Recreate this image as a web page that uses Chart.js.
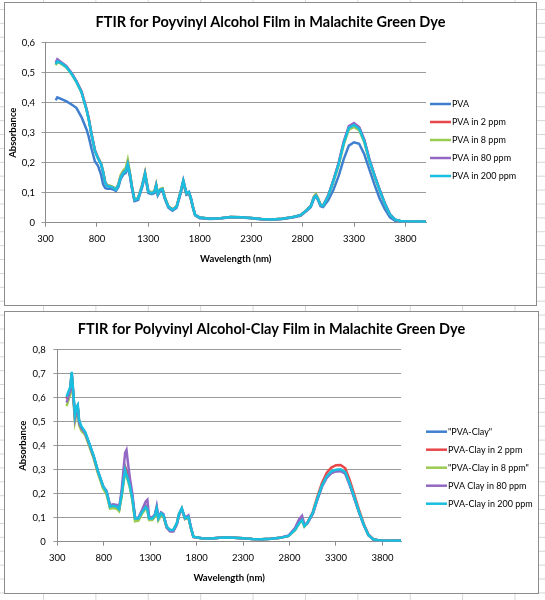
<!DOCTYPE html>
<html>
<head>
<meta charset="utf-8">
<script src="https://cdn.jsdelivr.net/npm/chart.js@4"></script>
<style>
  html, body { margin: 0; padding: 0; }
  body {
    width: 545px; height: 600px; position: relative; overflow: hidden;
    background-color: #fff;
    background-image:
      linear-gradient(to right, #d6d6d6 1px, transparent 1px),
      linear-gradient(to bottom, #d6d6d6 1px, transparent 1px);
    background-size: 52.4px 100%, 100% 13.9px;
    background-position: 43px 0, 0 9px;
  }
  .frame { position: absolute; box-sizing: border-box; border: 1px solid #8c8c8c; background: #fff; }
  .frame .box { position: absolute; left: -1px; top: -1px; }
  #topFrame { left: 4px; top: 2px; width: 533px; height: 304px; }
  #topFrame .box { width: 533px; height: 304px; }
  #bottomFrame { left: 4px; top: 311px; width: 535px; height: 283px; }
  #bottomFrame .box { width: 535px; height: 283px; }
</style>
</head>
<body>
<div class="frame" id="topFrame"><div class="box"><canvas id="pvaChart"></canvas></div></div>
<div class="frame" id="bottomFrame"><div class="box"><canvas id="clayChart"></canvas></div></div>
<script>
// Series colours (Excel palette)
const seriesColors = ['#3f7fcf', '#e8474a', '#9bcb52', '#9368c4', '#19bfde'];

// Axis ticks
const xTicks = [300, 800, 1300, 1800, 2300, 2800, 3300, 3800];
const topYTicks = [0, 0.1, 0.2, 0.3, 0.4, 0.5, 0.6];
const bottomYTicks = [0, 0.1, 0.2, 0.3, 0.4, 0.5, 0.6, 0.7, 0.8];

// FTIR for Poyvinyl Alcohol Film in Malachite Green Dye
const topLabels = ['PVA', 'PVA in 2 ppm', 'PVA in 8 ppm', 'PVA in 80 ppm', 'PVA in 200 ppm'];
const topWavelength = [
    400, 415, 450, 500, 550, 600, 650, 700, 720, 750,
    780, 810, 840, 860, 880, 900, 930, 960, 985, 1010,
    1030, 1060, 1080, 1100, 1120, 1140, 1165, 1200, 1240, 1268,
    1300, 1335, 1360, 1376, 1392, 1415, 1437, 1463, 1495, 1535,
    1575, 1615, 1640, 1670, 1695, 1715, 1735, 1755, 1800, 1900,
    2000, 2100, 2200, 2300, 2400, 2500, 2600, 2700, 2780, 2840,
    2880, 2910, 2930, 2950, 2975, 3000, 3050, 3100, 3150, 3200,
    3250, 3300, 3350, 3400, 3450, 3500, 3550, 3600, 3650, 3700,
    3750, 3800, 3900, 4000
];
const topPva = [
    0.408, 0.418, 0.413, 0.405, 0.395, 0.383, 0.352, 0.310, 0.287, 0.243,
    0.205, 0.190, 0.160, 0.128, 0.116, 0.113, 0.114, 0.110, 0.106, 0.120,
    0.145, 0.162, 0.166, 0.188, 0.156, 0.115, 0.072, 0.076, 0.118, 0.158,
    0.099, 0.095, 0.099, 0.120, 0.091, 0.105, 0.108, 0.077, 0.050, 0.040,
    0.050, 0.098, 0.133, 0.093, 0.097, 0.076, 0.047, 0.024, 0.015, 0.012,
    0.014, 0.018, 0.017, 0.015, 0.011, 0.010, 0.012, 0.017, 0.023, 0.040,
    0.052, 0.080, 0.088, 0.075, 0.055, 0.052, 0.075, 0.110, 0.155, 0.212,
    0.257, 0.268, 0.263, 0.228, 0.177, 0.126, 0.080, 0.045, 0.018, 0.006,
    0.004, 0.004, 0.003, 0.003
];
const topPva2 = [
    0.532, 0.540, 0.534, 0.522, 0.500, 0.472, 0.438, 0.378, 0.348, 0.292,
    0.242, 0.217, 0.197, 0.170, 0.135, 0.124, 0.121, 0.117, 0.111, 0.127,
    0.153, 0.170, 0.176, 0.198, 0.164, 0.121, 0.077, 0.081, 0.124, 0.165,
    0.104, 0.099, 0.104, 0.126, 0.096, 0.110, 0.113, 0.081, 0.054, 0.044,
    0.054, 0.104, 0.139, 0.097, 0.101, 0.079, 0.050, 0.026, 0.017, 0.013,
    0.015, 0.019, 0.018, 0.016, 0.012, 0.011, 0.013, 0.018, 0.025, 0.042,
    0.056, 0.085, 0.092, 0.079, 0.059, 0.057, 0.091, 0.142, 0.198, 0.268,
    0.319, 0.328, 0.316, 0.275, 0.210, 0.158, 0.109, 0.064, 0.028, 0.010,
    0.006, 0.005, 0.004, 0.003
];
const topPva8 = [
    0.525, 0.535, 0.530, 0.518, 0.497, 0.469, 0.434, 0.374, 0.344, 0.290,
    0.240, 0.216, 0.198, 0.172, 0.136, 0.125, 0.123, 0.119, 0.113, 0.130,
    0.158, 0.176, 0.182, 0.210, 0.170, 0.124, 0.078, 0.083, 0.126, 0.168,
    0.106, 0.101, 0.106, 0.128, 0.098, 0.112, 0.115, 0.083, 0.055, 0.045,
    0.055, 0.104, 0.138, 0.097, 0.101, 0.079, 0.050, 0.026, 0.017, 0.013,
    0.015, 0.019, 0.018, 0.016, 0.012, 0.011, 0.013, 0.018, 0.025, 0.043,
    0.057, 0.088, 0.096, 0.082, 0.060, 0.057, 0.089, 0.137, 0.190, 0.260,
    0.310, 0.319, 0.308, 0.268, 0.206, 0.154, 0.107, 0.062, 0.027, 0.010,
    0.006, 0.005, 0.004, 0.003
];
const topPva80 = [
    0.535, 0.545, 0.536, 0.523, 0.501, 0.472, 0.437, 0.377, 0.347, 0.291,
    0.241, 0.216, 0.196, 0.169, 0.134, 0.123, 0.120, 0.116, 0.110, 0.126,
    0.151, 0.169, 0.173, 0.196, 0.163, 0.120, 0.076, 0.080, 0.123, 0.164,
    0.103, 0.098, 0.103, 0.125, 0.095, 0.109, 0.112, 0.080, 0.053, 0.043,
    0.053, 0.103, 0.141, 0.099, 0.103, 0.081, 0.051, 0.026, 0.017, 0.013,
    0.015, 0.019, 0.018, 0.016, 0.012, 0.011, 0.013, 0.018, 0.025, 0.042,
    0.056, 0.084, 0.091, 0.079, 0.058, 0.056, 0.091, 0.142, 0.198, 0.270,
    0.322, 0.332, 0.319, 0.277, 0.211, 0.158, 0.109, 0.064, 0.028, 0.010,
    0.006, 0.005, 0.004, 0.003
];
const topPva200 = [
    0.528, 0.538, 0.532, 0.520, 0.498, 0.470, 0.435, 0.375, 0.345, 0.290,
    0.240, 0.215, 0.195, 0.168, 0.133, 0.122, 0.120, 0.116, 0.110, 0.125,
    0.150, 0.168, 0.172, 0.195, 0.162, 0.120, 0.076, 0.080, 0.122, 0.163,
    0.103, 0.098, 0.103, 0.124, 0.095, 0.109, 0.112, 0.080, 0.053, 0.043,
    0.053, 0.103, 0.140, 0.098, 0.102, 0.080, 0.050, 0.026, 0.017, 0.013,
    0.015, 0.019, 0.018, 0.016, 0.012, 0.011, 0.013, 0.018, 0.025, 0.042,
    0.055, 0.083, 0.090, 0.078, 0.058, 0.056, 0.090, 0.140, 0.195, 0.265,
    0.316, 0.326, 0.313, 0.272, 0.208, 0.156, 0.108, 0.063, 0.027, 0.010,
    0.006, 0.005, 0.004, 0.003
];

// FTIR for Polyvinyl Alcohol-Clay Film in Malachite Green Dye
const bottomLabels = ['"PVA-Clay"', 'PVA-Clay in 2 ppm', '"PVA-Clay in 8 ppm"', 'PVA Clay in 80 ppm', 'PVA-Clay in 200 ppm'];
const bottomWavelength = [
    400, 420, 440, 455, 472, 490, 508, 520, 535, 560,
    600, 640, 690, 740, 795, 830, 868, 900, 940, 965,
    993, 1015, 1030, 1045, 1060, 1083, 1108, 1137, 1173, 1215,
    1252, 1270, 1288, 1323, 1352, 1370, 1388, 1417, 1442, 1478,
    1514, 1549, 1586, 1612, 1640, 1675, 1711, 1740, 1765, 1855,
    1950, 2050, 2120, 2200, 2300, 2400, 2500, 2600, 2700, 2790,
    2860, 2905, 2935, 2960, 2990, 3050, 3100, 3150, 3200, 3250,
    3300, 3350, 3400, 3450, 3500, 3550, 3600, 3650, 3700, 3750,
    3800, 3900, 4000
];
const clayPva = [
    0.598, 0.618, 0.640, 0.700, 0.618, 0.522, 0.556, 0.565, 0.500, 0.476,
    0.455, 0.412, 0.357, 0.290, 0.227, 0.206, 0.145, 0.149, 0.145, 0.135,
    0.200, 0.270, 0.312, 0.295, 0.272, 0.235, 0.184, 0.098, 0.097, 0.127,
    0.150, 0.140, 0.098, 0.098, 0.113, 0.141, 0.098, 0.119, 0.112, 0.062,
    0.047, 0.048, 0.075, 0.117, 0.138, 0.096, 0.103, 0.055, 0.020, 0.014,
    0.013, 0.016, 0.018, 0.016, 0.014, 0.011, 0.010, 0.012, 0.016, 0.024,
    0.052, 0.082, 0.095, 0.067, 0.077, 0.118, 0.177, 0.232, 0.268, 0.288,
    0.294, 0.296, 0.285, 0.236, 0.180, 0.121, 0.069, 0.027, 0.010, 0.006,
    0.005, 0.004, 0.004
];
const clay2 = [
    0.595, 0.615, 0.638, 0.702, 0.615, 0.520, 0.552, 0.562, 0.498, 0.474,
    0.452, 0.410, 0.355, 0.288, 0.225, 0.205, 0.143, 0.147, 0.143, 0.133,
    0.198, 0.268, 0.310, 0.292, 0.270, 0.232, 0.182, 0.096, 0.095, 0.124,
    0.148, 0.138, 0.096, 0.096, 0.110, 0.138, 0.096, 0.117, 0.110, 0.061,
    0.047, 0.047, 0.074, 0.116, 0.137, 0.095, 0.102, 0.055, 0.020, 0.014,
    0.013, 0.016, 0.018, 0.016, 0.014, 0.011, 0.010, 0.012, 0.016, 0.024,
    0.050, 0.080, 0.092, 0.066, 0.078, 0.124, 0.188, 0.246, 0.286, 0.309,
    0.319, 0.320, 0.306, 0.254, 0.193, 0.130, 0.074, 0.030, 0.011, 0.006,
    0.005, 0.004, 0.004
];
const clay8 = [
    0.565, 0.590, 0.615, 0.690, 0.600, 0.500, 0.535, 0.545, 0.485, 0.462,
    0.445, 0.402, 0.348, 0.282, 0.220, 0.198, 0.138, 0.140, 0.137, 0.127,
    0.188, 0.250, 0.290, 0.272, 0.255, 0.222, 0.172, 0.085, 0.088, 0.118,
    0.138, 0.128, 0.090, 0.090, 0.104, 0.132, 0.090, 0.111, 0.104, 0.058,
    0.046, 0.046, 0.073, 0.115, 0.136, 0.095, 0.101, 0.054, 0.020, 0.013,
    0.013, 0.016, 0.018, 0.016, 0.014, 0.011, 0.010, 0.012, 0.016, 0.024,
    0.048, 0.076, 0.088, 0.063, 0.076, 0.118, 0.178, 0.233, 0.270, 0.291,
    0.298, 0.300, 0.288, 0.238, 0.181, 0.121, 0.069, 0.027, 0.010, 0.006,
    0.005, 0.004, 0.004
];
const clay80 = [
    0.580, 0.605, 0.630, 0.700, 0.610, 0.515, 0.548, 0.558, 0.495, 0.472,
    0.452, 0.410, 0.356, 0.290, 0.230, 0.212, 0.152, 0.156, 0.153, 0.140,
    0.215, 0.310, 0.370, 0.382, 0.330, 0.262, 0.200, 0.100, 0.100, 0.135,
    0.168, 0.175, 0.105, 0.100, 0.115, 0.148, 0.100, 0.122, 0.115, 0.058,
    0.042, 0.042, 0.070, 0.112, 0.135, 0.100, 0.110, 0.058, 0.020, 0.014,
    0.013, 0.016, 0.018, 0.016, 0.014, 0.011, 0.010, 0.012, 0.017, 0.026,
    0.058, 0.095, 0.108, 0.072, 0.075, 0.115, 0.175, 0.230, 0.266, 0.286,
    0.293, 0.295, 0.283, 0.234, 0.178, 0.120, 0.068, 0.027, 0.010, 0.006,
    0.005, 0.004, 0.004
];
const clay200 = [
    0.604, 0.625, 0.645, 0.708, 0.625, 0.528, 0.562, 0.570, 0.505, 0.480,
    0.458, 0.415, 0.360, 0.292, 0.229, 0.208, 0.146, 0.150, 0.146, 0.136,
    0.195, 0.260, 0.300, 0.280, 0.262, 0.229, 0.180, 0.097, 0.097, 0.125,
    0.145, 0.135, 0.097, 0.097, 0.111, 0.139, 0.097, 0.118, 0.111, 0.063,
    0.049, 0.049, 0.076, 0.118, 0.139, 0.097, 0.104, 0.056, 0.021, 0.014,
    0.013, 0.016, 0.018, 0.016, 0.014, 0.011, 0.010, 0.012, 0.016, 0.024,
    0.050, 0.078, 0.090, 0.065, 0.078, 0.120, 0.180, 0.235, 0.272, 0.293,
    0.300, 0.302, 0.290, 0.240, 0.183, 0.123, 0.070, 0.028, 0.010, 0.006,
    0.005, 0.004, 0.004
];

Chart.defaults.font.family = 'Lato, "Open Sans", sans-serif';
Chart.defaults.color = '#000';

// Excel-style legend: short line sample, label to the right
const lineLegend = {
    id: 'lineLegend',
    afterDraw(chart, args, opts) {
        const ctx = chart.ctx;
        ctx.save();
        ctx.font = '9px Lato, "Open Sans", sans-serif';
        ctx.textBaseline = 'middle';
        chart.data.datasets.forEach((ds, i) => {
            const y = opts.y + i * opts.gap;
            ctx.strokeStyle = ds.borderColor;
            ctx.lineWidth = 2.5;
            ctx.beginPath();
            ctx.moveTo(opts.x, y);
            ctx.lineTo(opts.x + 21, y);
            ctx.stroke();
            ctx.fillStyle = '#000';
            ctx.fillText(ds.label, opts.x + 22, y);
        });
        ctx.restore();
    }
};

function makeDatasets(labels, xs, series) {
    return series.map((ys, i) => ({
        label: labels[i],
        data: xs.map((x, j) => ({ x: x, y: ys[j] })),
        borderColor: seriesColors[i],
        backgroundColor: seriesColors[i],
        borderWidth: 2.5,
        pointRadius: 0,
        tension: 0,
        order: series.length - i
    }));
}

function fmt(v) {
    return v === 0 ? '0' : v.toFixed(1).replace('.', ',');
}

function makeConfig(p) {
    return {
        type: 'line',
        data: { datasets: makeDatasets(p.labels, p.xs, p.series) },
        options: {
            responsive: true,
            maintainAspectRatio: false,
            animation: false,
            layout: { padding: 0 },
            plugins: {
                legend: { display: false },
                tooltip: { enabled: false },
                title: {
                    display: true,
                    text: p.title,
                    font: { size: 14.5, weight: 'bold' },
                    padding: { top: p.titleTop, bottom: p.titleBottom }
                },
                lineLegend: p.legend
            },
            scales: {
                x: {
                    type: 'linear',
                    min: 300,
                    max: 4000,
                    afterBuildTicks: s => { s.ticks = xTicks.map(v => ({ value: v })); },
                    afterFit: s => { s.height = p.xHeight; },
                    grid: { drawOnChartArea: false, drawTicks: true, tickLength: 4, color: '#8c8c8c' },
                    border: { display: true, color: '#8c8c8c', width: 1 },
                    ticks: { font: { size: 9.5 }, padding: p.xTickPad, maxRotation: 0, autoSkip: false, callback: v => String(v) },
                    title: {
                        display: true,
                        text: 'Wavelength (nm)',
                        font: { size: 9.5, weight: 'bold' },
                        padding: { top: 0, bottom: p.xTitlePad }
                    }
                },
                y: {
                    min: 0,
                    max: p.yTicks[p.yTicks.length - 1],
                    afterBuildTicks: s => { s.ticks = p.yTicks.map(v => ({ value: v })); },
                    afterFit: s => { s.width = p.yWidth; },
                    grid: { color: '#9a9a9a', tickLength: 4, lineWidth: 1 },
                    border: { display: true, color: '#8c8c8c', width: 1 },
                    ticks: { font: { size: 9.5 }, padding: p.yTickPad, callback: v => fmt(v) },
                    title: {
                        display: true,
                        text: 'Absorbance',
                        font: { size: 9.5, weight: 'bold' },
                        padding: { top: p.yTitlePad, bottom: 0 }
                    }
                },
                // empty right-hand box that leaves room for the legend
                legendSpace: {
                    type: 'linear',
                    position: 'right',
                    afterFit: s => { s.width = p.padRight; },
                    grid: { display: false, drawTicks: false },
                    border: { display: false },
                    ticks: { display: false }
                }
            }
        },
        plugins: [lineLegend]
    };
}

const pvaChart = new Chart(document.getElementById('pvaChart'), makeConfig({
    title: 'FTIR for Poyvinyl Alcohol Film in Malachite Green Dye',
    labels: topLabels,
    xs: topWavelength,
    series: [topPva, topPva2, topPva8, topPva80, topPva200],
    yTicks: topYTicks,
    padRight: 111,
    titleTop: 11.8,
    titleBottom: 11.5,
    yWidth: 41.5,
    xHeight: 83.3,
    xTickPad: 7,
    xTitlePad: 41.5,
    yTickPad: 6.5,
    yTitlePad: 3,
    legend: { x: 426, y: 102, gap: 18 }
}));

const clayChart = new Chart(document.getElementById('clayChart'), makeConfig({
    title: 'FTIR for Polyvinyl Alcohol-Clay Film in Malachite Green Dye',
    labels: bottomLabels,
    xs: bottomWavelength,
    series: [clayPva, clay2, clay8, clay80, clay200],
    yTicks: bottomYTicks,
    padRight: 138,
    titleTop: 9.6,
    titleBottom: 11.7,
    yWidth: 53.3,
    xHeight: 52.3,
    xTickPad: 6.5,
    xTitlePad: 10.7,
    yTickPad: 7.6,
    yTitlePad: 13.5,
    legend: { x: 422, y: 120.7, gap: 18 }
}));
</script>
</body>
</html>
